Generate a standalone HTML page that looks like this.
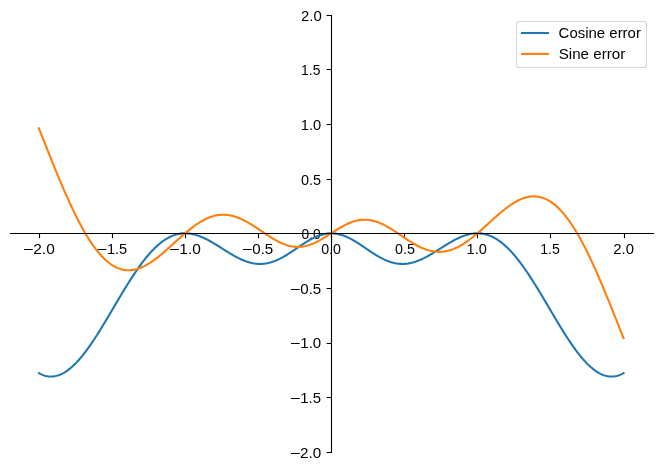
<!DOCTYPE html><html><head><meta charset="utf-8"><style>html,body{margin:0;padding:0;background:#fff;overflow:hidden;}svg{display:block;}text{font-family:"Liberation Sans",sans-serif;fill:#000;-webkit-font-smoothing:antialiased;}svg{will-change:transform;}</style></head><body>
<svg width="662" height="470" viewBox="0 0 662 470">
<rect width="662" height="470" fill="#fff"/>
<path d="M39.50,233.50 V238.361 M331.50,452.50 H326.639 M112.50,233.50 V238.361 M331.50,397.50 H326.639 M185.50,233.50 V238.361 M331.50,343.50 H326.639 M258.50,233.50 V238.361 M331.50,288.50 H326.639 M331.50,233.50 V238.361 M331.50,233.50 H326.639 M404.50,233.50 V238.361 M331.50,179.50 H326.639 M477.50,233.50 V238.361 M331.50,124.50 H326.639 M550.50,233.50 V238.361 M331.50,69.50 H326.639 M624.50,233.50 V238.361 M331.50,15.50 H326.639" fill="none" stroke="#000" stroke-width="1.1111"/>
<text x="33.26" y="254.10" font-size="14.40" textLength="21.48" lengthAdjust="spacingAndGlyphs">2.0</text>
<text x="106.98" y="254.10" font-size="14.40" textLength="20.26" lengthAdjust="spacingAndGlyphs">1.5</text>
<text x="179.35" y="254.10" font-size="14.40" textLength="21.51" lengthAdjust="spacingAndGlyphs">1.0</text>
<text x="252.25" y="254.10" font-size="14.40" textLength="21.02" lengthAdjust="spacingAndGlyphs">0.5</text>
<text x="321.16" y="254.10" font-size="14.40" textLength="19.77" lengthAdjust="spacingAndGlyphs">0.0</text>
<text x="395.04" y="254.10" font-size="14.40" textLength="19.93" lengthAdjust="spacingAndGlyphs">0.5</text>
<text x="466.62" y="254.10" font-size="14.40" textLength="20.35" lengthAdjust="spacingAndGlyphs">1.0</text>
<text x="540.17" y="254.10" font-size="14.40" textLength="19.69" lengthAdjust="spacingAndGlyphs">1.5</text>
<text x="613.34" y="254.10" font-size="14.40" textLength="20.70" lengthAdjust="spacingAndGlyphs">2.0</text>
<text x="300.13" y="458.00" font-size="14.40" textLength="21.23" lengthAdjust="spacingAndGlyphs">2.0</text>
<text x="300.23" y="403.10" font-size="14.40" textLength="20.82" lengthAdjust="spacingAndGlyphs">1.5</text>
<text x="300.30" y="348.10" font-size="14.40" textLength="20.96" lengthAdjust="spacingAndGlyphs">1.0</text>
<text x="300.25" y="294.00" font-size="14.40" textLength="21.02" lengthAdjust="spacingAndGlyphs">0.5</text>
<text x="301.55" y="238.80" font-size="14.40" textLength="19.22" lengthAdjust="spacingAndGlyphs">0.0</text>
<text x="300.95" y="185.00" font-size="14.40" textLength="20.07" lengthAdjust="spacingAndGlyphs">0.5</text>
<text x="300.75" y="130.10" font-size="14.40" textLength="20.47" lengthAdjust="spacingAndGlyphs">1.0</text>
<text x="301.08" y="75.40" font-size="14.40" textLength="19.32" lengthAdjust="spacingAndGlyphs">1.5</text>
<text x="300.94" y="21.00" font-size="14.40" textLength="20.80" lengthAdjust="spacingAndGlyphs">2.0</text>
<path d="M24.10,249.50 H32.75 M97.60,249.50 H106.25 M170.10,249.50 H178.75 M243.00,249.50 H251.65 M291.00,453.50 H299.65 M291.00,398.50 H299.65 M291.00,343.50 H299.65 M291.00,289.50 H299.65" stroke="#000" stroke-width="1.2" fill="none"/>
<path d="M38.95,373.14 L39.93,373.68 L40.90,374.17 L41.88,374.61 L42.85,375.01 L43.83,375.37 L44.81,375.68 L45.78,375.94 L46.76,376.15 L47.73,376.33 L48.71,376.45 L49.69,376.53 L50.66,376.57 L51.64,376.56 L52.61,376.51 L53.59,376.41 L54.57,376.27 L55.54,376.09 L56.52,375.86 L57.49,375.59 L58.47,375.28 L59.45,374.92 L60.42,374.53 L61.40,374.09 L62.37,373.61 L63.35,373.10 L64.32,372.54 L65.30,371.94 L66.28,371.30 L67.25,370.63 L68.23,369.91 L69.20,369.16 L70.18,368.38 L71.16,367.55 L72.13,366.70 L73.11,365.80 L74.08,364.88 L75.06,363.91 L76.04,362.92 L77.01,361.89 L77.99,360.83 L78.96,359.75 L79.94,358.63 L80.92,357.48 L81.89,356.30 L82.87,355.09 L83.84,353.86 L84.82,352.60 L85.80,351.32 L86.77,350.01 L87.75,348.68 L88.72,347.32 L89.70,345.94 L90.68,344.54 L91.65,343.12 L92.63,341.68 L93.60,340.22 L94.58,338.74 L95.56,337.24 L96.53,335.73 L97.51,334.20 L98.48,332.66 L99.46,331.10 L100.44,329.53 L101.41,327.95 L102.39,326.36 L103.36,324.75 L104.34,323.14 L105.32,321.52 L106.29,319.89 L107.27,318.26 L108.24,316.62 L109.22,314.98 L110.20,313.33 L111.17,311.67 L112.15,310.02 L113.12,308.37 L114.10,306.71 L115.07,305.06 L116.05,303.40 L117.03,301.75 L118.00,300.10 L118.98,298.46 L119.95,296.82 L120.93,295.19 L121.91,293.57 L122.88,291.95 L123.86,290.34 L124.83,288.74 L125.81,287.15 L126.79,285.57 L127.76,284.00 L128.74,282.45 L129.71,280.91 L130.69,279.38 L131.67,277.87 L132.64,276.37 L133.62,274.89 L134.59,273.43 L135.57,271.98 L136.55,270.56 L137.52,269.15 L138.50,267.76 L139.47,266.40 L140.45,265.05 L141.43,263.73 L142.40,262.43 L143.38,261.15 L144.35,259.89 L145.33,258.66 L146.31,257.46 L147.28,256.28 L148.26,255.13 L149.23,254.00 L150.21,252.90 L151.19,251.82 L152.16,250.78 L153.14,249.76 L154.11,248.77 L155.09,247.81 L156.07,246.88 L157.04,245.97 L158.02,245.10 L158.99,244.26 L159.97,243.45 L160.94,242.67 L161.92,241.92 L162.90,241.20 L163.87,240.51 L164.85,239.85 L165.82,239.22 L166.80,238.63 L167.78,238.07 L168.75,237.54 L169.73,237.04 L170.70,236.57 L171.68,236.14 L172.66,235.73 L173.63,235.36 L174.61,235.02 L175.58,234.71 L176.56,234.43 L177.54,234.19 L178.51,233.97 L179.49,233.78 L180.46,233.63 L181.44,233.50 L182.42,233.41 L183.39,233.34 L184.37,233.31 L185.34,233.30 L186.32,233.32 L187.30,233.37 L188.27,233.45 L189.25,233.55 L190.22,233.68 L191.20,233.84 L192.18,234.02 L193.15,234.23 L194.13,234.46 L195.10,234.72 L196.08,235.00 L197.06,235.30 L198.03,235.63 L199.01,235.98 L199.98,236.34 L200.96,236.73 L201.94,237.14 L202.91,237.56 L203.89,238.00 L204.86,238.46 L205.84,238.94 L206.82,239.43 L207.79,239.94 L208.77,240.46 L209.74,240.99 L210.72,241.53 L211.69,242.09 L212.67,242.65 L213.65,243.23 L214.62,243.81 L215.60,244.40 L216.57,245.00 L217.55,245.60 L218.53,246.21 L219.50,246.82 L220.48,247.44 L221.45,248.05 L222.43,248.67 L223.41,249.29 L224.38,249.90 L225.36,250.51 L226.33,251.13 L227.31,251.73 L228.29,252.33 L229.26,252.93 L230.24,253.52 L231.21,254.10 L232.19,254.67 L233.17,255.23 L234.14,255.79 L235.12,256.33 L236.09,256.85 L237.07,257.37 L238.05,257.87 L239.02,258.36 L240.00,258.83 L240.97,259.28 L241.95,259.72 L242.93,260.14 L243.90,260.54 L244.88,260.92 L245.85,261.28 L246.83,261.62 L247.81,261.94 L248.78,262.24 L249.76,262.52 L250.73,262.77 L251.71,263.00 L252.69,263.20 L253.66,263.38 L254.64,263.54 L255.61,263.67 L256.59,263.77 L257.57,263.85 L258.54,263.91 L259.52,263.94 L260.49,263.94 L261.47,263.91 L262.44,263.86 L263.42,263.79 L264.40,263.68 L265.37,263.55 L266.35,263.40 L267.32,263.22 L268.30,263.01 L269.28,262.78 L270.25,262.52 L271.23,262.24 L272.20,261.93 L273.18,261.60 L274.16,261.25 L275.13,260.87 L276.11,260.47 L277.08,260.05 L278.06,259.61 L279.04,259.14 L280.01,258.66 L280.99,258.16 L281.96,257.65 L282.94,257.11 L283.92,256.56 L284.89,255.99 L285.87,255.41 L286.84,254.82 L287.82,254.21 L288.80,253.60 L289.77,252.97 L290.75,252.34 L291.72,251.69 L292.70,251.04 L293.68,250.39 L294.65,249.73 L295.63,249.07 L296.60,248.41 L297.58,247.74 L298.56,247.08 L299.53,246.42 L300.51,245.76 L301.48,245.11 L302.46,244.47 L303.44,243.83 L304.41,243.20 L305.39,242.58 L306.36,241.97 L307.34,241.37 L308.31,240.79 L309.29,240.22 L310.27,239.67 L311.24,239.13 L312.22,238.61 L313.19,238.12 L314.17,237.64 L315.15,237.18 L316.12,236.74 L317.10,236.33 L318.07,235.94 L319.05,235.57 L320.03,235.23 L321.00,234.92 L321.98,234.63 L322.95,234.37 L323.93,234.13 L324.91,233.93 L325.88,233.75 L326.86,233.60 L327.83,233.48 L328.81,233.39 L329.79,233.33 L330.76,233.30 L331.74,233.30 L332.71,233.33 L333.69,233.39 L334.67,233.48 L335.64,233.60 L336.62,233.75 L337.59,233.93 L338.57,234.13 L339.55,234.37 L340.52,234.63 L341.50,234.92 L342.47,235.23 L343.45,235.57 L344.43,235.94 L345.40,236.33 L346.38,236.74 L347.35,237.18 L348.33,237.64 L349.31,238.12 L350.28,238.61 L351.26,239.13 L352.23,239.67 L353.21,240.22 L354.19,240.79 L355.16,241.37 L356.14,241.97 L357.11,242.58 L358.09,243.20 L359.06,243.83 L360.04,244.47 L361.02,245.11 L361.99,245.76 L362.97,246.42 L363.94,247.08 L364.92,247.74 L365.90,248.41 L366.87,249.07 L367.85,249.73 L368.82,250.39 L369.80,251.04 L370.78,251.69 L371.75,252.34 L372.73,252.97 L373.70,253.60 L374.68,254.21 L375.66,254.82 L376.63,255.41 L377.61,255.99 L378.58,256.56 L379.56,257.11 L380.54,257.65 L381.51,258.16 L382.49,258.66 L383.46,259.14 L384.44,259.61 L385.42,260.05 L386.39,260.47 L387.37,260.87 L388.34,261.25 L389.32,261.60 L390.30,261.93 L391.27,262.24 L392.25,262.52 L393.22,262.78 L394.20,263.01 L395.18,263.22 L396.15,263.40 L397.13,263.55 L398.10,263.68 L399.08,263.79 L400.06,263.86 L401.03,263.91 L402.01,263.94 L402.98,263.94 L403.96,263.91 L404.93,263.85 L405.91,263.77 L406.89,263.67 L407.86,263.54 L408.84,263.38 L409.81,263.20 L410.79,263.00 L411.77,262.77 L412.74,262.52 L413.72,262.24 L414.69,261.94 L415.67,261.62 L416.65,261.28 L417.62,260.92 L418.60,260.54 L419.57,260.14 L420.55,259.72 L421.53,259.28 L422.50,258.83 L423.48,258.36 L424.45,257.87 L425.43,257.37 L426.41,256.85 L427.38,256.33 L428.36,255.79 L429.33,255.23 L430.31,254.67 L431.29,254.10 L432.26,253.52 L433.24,252.93 L434.21,252.33 L435.19,251.73 L436.17,251.13 L437.14,250.51 L438.12,249.90 L439.09,249.29 L440.07,248.67 L441.05,248.05 L442.02,247.44 L443.00,246.82 L443.97,246.21 L444.95,245.60 L445.93,245.00 L446.90,244.40 L447.88,243.81 L448.85,243.23 L449.83,242.65 L450.81,242.09 L451.78,241.53 L452.76,240.99 L453.73,240.46 L454.71,239.94 L455.68,239.43 L456.66,238.94 L457.64,238.46 L458.61,238.00 L459.59,237.56 L460.56,237.14 L461.54,236.73 L462.52,236.34 L463.49,235.98 L464.47,235.63 L465.44,235.30 L466.42,235.00 L467.40,234.72 L468.37,234.46 L469.35,234.23 L470.32,234.02 L471.30,233.84 L472.28,233.68 L473.25,233.55 L474.23,233.45 L475.20,233.37 L476.18,233.32 L477.16,233.30 L478.13,233.31 L479.11,233.34 L480.08,233.41 L481.06,233.50 L482.04,233.63 L483.01,233.78 L483.99,233.97 L484.96,234.19 L485.94,234.43 L486.92,234.71 L487.89,235.02 L488.87,235.36 L489.84,235.73 L490.82,236.14 L491.80,236.57 L492.77,237.04 L493.75,237.54 L494.72,238.07 L495.70,238.63 L496.68,239.22 L497.65,239.85 L498.63,240.51 L499.60,241.20 L500.58,241.92 L501.56,242.67 L502.53,243.45 L503.51,244.26 L504.48,245.10 L505.46,245.97 L506.43,246.88 L507.41,247.81 L508.39,248.77 L509.36,249.76 L510.34,250.78 L511.31,251.82 L512.29,252.90 L513.27,254.00 L514.24,255.13 L515.22,256.28 L516.19,257.46 L517.17,258.66 L518.15,259.89 L519.12,261.15 L520.10,262.43 L521.07,263.73 L522.05,265.05 L523.03,266.40 L524.00,267.76 L524.98,269.15 L525.95,270.56 L526.93,271.98 L527.91,273.43 L528.88,274.89 L529.86,276.37 L530.83,277.87 L531.81,279.38 L532.79,280.91 L533.76,282.45 L534.74,284.00 L535.71,285.57 L536.69,287.15 L537.67,288.74 L538.64,290.34 L539.62,291.95 L540.59,293.57 L541.57,295.19 L542.55,296.82 L543.52,298.46 L544.50,300.10 L545.47,301.75 L546.45,303.40 L547.43,305.06 L548.40,306.71 L549.38,308.37 L550.35,310.02 L551.33,311.67 L552.30,313.33 L553.28,314.98 L554.26,316.62 L555.23,318.26 L556.21,319.89 L557.18,321.52 L558.16,323.14 L559.14,324.75 L560.11,326.36 L561.09,327.95 L562.06,329.53 L563.04,331.10 L564.02,332.66 L564.99,334.20 L565.97,335.73 L566.94,337.24 L567.92,338.74 L568.90,340.22 L569.87,341.68 L570.85,343.12 L571.82,344.54 L572.80,345.94 L573.78,347.32 L574.75,348.68 L575.73,350.01 L576.70,351.32 L577.68,352.60 L578.66,353.86 L579.63,355.09 L580.61,356.30 L581.58,357.48 L582.56,358.63 L583.54,359.75 L584.51,360.83 L585.49,361.89 L586.46,362.92 L587.44,363.91 L588.42,364.88 L589.39,365.80 L590.37,366.70 L591.34,367.55 L592.32,368.38 L593.30,369.16 L594.27,369.91 L595.25,370.63 L596.22,371.30 L597.20,371.94 L598.18,372.54 L599.15,373.10 L600.13,373.61 L601.10,374.09 L602.08,374.53 L603.05,374.92 L604.03,375.28 L605.01,375.59 L605.98,375.86 L606.96,376.09 L607.93,376.27 L608.91,376.41 L609.89,376.51 L610.86,376.56 L611.84,376.57 L612.81,376.53 L613.79,376.45 L614.77,376.33 L615.74,376.15 L616.72,375.94 L617.69,375.68 L618.67,375.37 L619.65,375.01 L620.62,374.61 L621.60,374.17 L622.57,373.68 L623.55,373.14" fill="none" stroke="#1f77b4" stroke-width="2.0833" stroke-linejoin="round" stroke-linecap="square"/>
<path d="M38.95,128.42 L39.93,130.88 L40.90,133.34 L41.88,135.80 L42.85,138.26 L43.83,140.73 L44.81,143.19 L45.78,145.65 L46.76,148.11 L47.73,150.56 L48.71,153.01 L49.69,155.45 L50.66,157.89 L51.64,160.32 L52.61,162.74 L53.59,165.15 L54.57,167.55 L55.54,169.94 L56.52,172.32 L57.49,174.69 L58.47,177.04 L59.45,179.37 L60.42,181.70 L61.40,184.00 L62.37,186.29 L63.35,188.56 L64.32,190.81 L65.30,193.04 L66.28,195.25 L67.25,197.45 L68.23,199.61 L69.20,201.76 L70.18,203.88 L71.16,205.98 L72.13,208.05 L73.11,210.10 L74.08,212.12 L75.06,214.12 L76.04,216.08 L77.01,218.02 L77.99,219.93 L78.96,221.81 L79.94,223.66 L80.92,225.48 L81.89,227.27 L82.87,229.03 L83.84,230.75 L84.82,232.44 L85.80,234.10 L86.77,235.73 L87.75,237.32 L88.72,238.87 L89.70,240.39 L90.68,241.88 L91.65,243.33 L92.63,244.74 L93.60,246.12 L94.58,247.46 L95.56,248.76 L96.53,250.03 L97.51,251.26 L98.48,252.45 L99.46,253.60 L100.44,254.72 L101.41,255.79 L102.39,256.83 L103.36,257.83 L104.34,258.79 L105.32,259.71 L106.29,260.59 L107.27,261.43 L108.24,262.23 L109.22,263.00 L110.20,263.72 L111.17,264.41 L112.15,265.05 L113.12,265.66 L114.10,266.23 L115.07,266.76 L116.05,267.25 L117.03,267.71 L118.00,268.12 L118.98,268.50 L119.95,268.84 L120.93,269.14 L121.91,269.41 L122.88,269.63 L123.86,269.82 L124.83,269.98 L125.81,270.10 L126.79,270.18 L127.76,270.23 L128.74,270.24 L129.71,270.22 L130.69,270.16 L131.67,270.07 L132.64,269.95 L133.62,269.79 L134.59,269.61 L135.57,269.39 L136.55,269.14 L137.52,268.86 L138.50,268.55 L139.47,268.21 L140.45,267.84 L141.43,267.44 L142.40,267.02 L143.38,266.57 L144.35,266.09 L145.33,265.59 L146.31,265.06 L147.28,264.51 L148.26,263.94 L149.23,263.35 L150.21,262.73 L151.19,262.09 L152.16,261.43 L153.14,260.75 L154.11,260.06 L155.09,259.34 L156.07,258.61 L157.04,257.87 L158.02,257.10 L158.99,256.33 L159.97,255.54 L160.94,254.73 L161.92,253.92 L162.90,253.09 L163.87,252.25 L164.85,251.41 L165.82,250.56 L166.80,249.69 L167.78,248.83 L168.75,247.95 L169.73,247.08 L170.70,246.19 L171.68,245.31 L172.66,244.42 L173.63,243.53 L174.61,242.64 L175.58,241.75 L176.56,240.87 L177.54,239.98 L178.51,239.10 L179.49,238.22 L180.46,237.35 L181.44,236.48 L182.42,235.62 L183.39,234.77 L184.37,233.93 L185.34,233.09 L186.32,232.27 L187.30,231.45 L188.27,230.65 L189.25,229.86 L190.22,229.08 L191.20,228.32 L192.18,227.57 L193.15,226.83 L194.13,226.12 L195.10,225.42 L196.08,224.73 L197.06,224.07 L198.03,223.42 L199.01,222.79 L199.98,222.18 L200.96,221.60 L201.94,221.03 L202.91,220.49 L203.89,219.96 L204.86,219.47 L205.84,218.99 L206.82,218.54 L207.79,218.11 L208.77,217.70 L209.74,217.32 L210.72,216.97 L211.69,216.64 L212.67,216.33 L213.65,216.06 L214.62,215.81 L215.60,215.58 L216.57,215.38 L217.55,215.21 L218.53,215.06 L219.50,214.95 L220.48,214.85 L221.45,214.79 L222.43,214.75 L223.41,214.74 L224.38,214.76 L225.36,214.80 L226.33,214.87 L227.31,214.97 L228.29,215.09 L229.26,215.24 L230.24,215.41 L231.21,215.61 L232.19,215.83 L233.17,216.08 L234.14,216.35 L235.12,216.65 L236.09,216.97 L237.07,217.31 L238.05,217.68 L239.02,218.06 L240.00,218.47 L240.97,218.90 L241.95,219.34 L242.93,219.81 L243.90,220.30 L244.88,220.80 L245.85,221.32 L246.83,221.85 L247.81,222.40 L248.78,222.96 L249.76,223.54 L250.73,224.13 L251.71,224.73 L252.69,225.34 L253.66,225.96 L254.64,226.59 L255.61,227.23 L256.59,227.87 L257.57,228.52 L258.54,229.18 L259.52,229.83 L260.49,230.49 L261.47,231.15 L262.44,231.81 L263.42,232.47 L264.40,233.12 L265.37,233.78 L266.35,234.43 L267.32,235.07 L268.30,235.71 L269.28,236.33 L270.25,236.95 L271.23,237.56 L272.20,238.16 L273.18,238.75 L274.16,239.32 L275.13,239.88 L276.11,240.43 L277.08,240.96 L278.06,241.47 L279.04,241.96 L280.01,242.44 L280.99,242.89 L281.96,243.32 L282.94,243.74 L283.92,244.13 L284.89,244.49 L285.87,244.84 L286.84,245.16 L287.82,245.45 L288.80,245.72 L289.77,245.96 L290.75,246.18 L291.72,246.37 L292.70,246.53 L293.68,246.66 L294.65,246.77 L295.63,246.85 L296.60,246.90 L297.58,246.92 L298.56,246.91 L299.53,246.88 L300.51,246.81 L301.48,246.72 L302.46,246.60 L303.44,246.45 L304.41,246.28 L305.39,246.07 L306.36,245.84 L307.34,245.59 L308.31,245.31 L309.29,245.00 L310.27,244.67 L311.24,244.31 L312.22,243.93 L313.19,243.53 L314.17,243.11 L315.15,242.67 L316.12,242.20 L317.10,241.72 L318.07,241.22 L319.05,240.70 L320.03,240.17 L321.00,239.62 L321.98,239.06 L322.95,238.49 L323.93,237.90 L324.91,237.31 L325.88,236.71 L326.86,236.10 L327.83,235.48 L328.81,234.86 L329.79,234.24 L330.76,233.61 L331.74,232.99 L332.71,232.36 L333.69,231.74 L334.67,231.12 L335.64,230.50 L336.62,229.89 L337.59,229.29 L338.57,228.70 L339.55,228.11 L340.52,227.54 L341.50,226.98 L342.47,226.43 L343.45,225.90 L344.43,225.38 L345.40,224.88 L346.38,224.40 L347.35,223.93 L348.33,223.49 L349.31,223.07 L350.28,222.67 L351.26,222.29 L352.23,221.93 L353.21,221.60 L354.19,221.29 L355.16,221.01 L356.14,220.76 L357.11,220.53 L358.09,220.32 L359.06,220.15 L360.04,220.00 L361.02,219.88 L361.99,219.79 L362.97,219.72 L363.94,219.69 L364.92,219.68 L365.90,219.70 L366.87,219.75 L367.85,219.83 L368.82,219.94 L369.80,220.07 L370.78,220.23 L371.75,220.42 L372.73,220.64 L373.70,220.88 L374.68,221.15 L375.66,221.44 L376.63,221.76 L377.61,222.11 L378.58,222.47 L379.56,222.86 L380.54,223.28 L381.51,223.71 L382.49,224.16 L383.46,224.64 L384.44,225.13 L385.42,225.64 L386.39,226.17 L387.37,226.72 L388.34,227.28 L389.32,227.85 L390.30,228.44 L391.27,229.04 L392.25,229.65 L393.22,230.27 L394.20,230.89 L395.18,231.53 L396.15,232.17 L397.13,232.82 L398.10,233.48 L399.08,234.13 L400.06,234.79 L401.03,235.45 L402.01,236.11 L402.98,236.77 L403.96,237.42 L404.93,238.08 L405.91,238.73 L406.89,239.37 L407.86,240.01 L408.84,240.64 L409.81,241.26 L410.79,241.87 L411.77,242.47 L412.74,243.06 L413.72,243.64 L414.69,244.20 L415.67,244.75 L416.65,245.28 L417.62,245.80 L418.60,246.30 L419.57,246.79 L420.55,247.26 L421.53,247.70 L422.50,248.13 L423.48,248.54 L424.45,248.92 L425.43,249.29 L426.41,249.63 L427.38,249.95 L428.36,250.25 L429.33,250.52 L430.31,250.77 L431.29,250.99 L432.26,251.19 L433.24,251.36 L434.21,251.51 L435.19,251.63 L436.17,251.73 L437.14,251.80 L438.12,251.84 L439.09,251.86 L440.07,251.85 L441.05,251.81 L442.02,251.75 L443.00,251.65 L443.97,251.54 L444.95,251.39 L445.93,251.22 L446.90,251.02 L447.88,250.79 L448.85,250.54 L449.83,250.27 L450.81,249.96 L451.78,249.63 L452.76,249.28 L453.73,248.90 L454.71,248.49 L455.68,248.06 L456.66,247.61 L457.64,247.13 L458.61,246.64 L459.59,246.11 L460.56,245.57 L461.54,245.00 L462.52,244.42 L463.49,243.81 L464.47,243.18 L465.44,242.53 L466.42,241.87 L467.40,241.18 L468.37,240.48 L469.35,239.77 L470.32,239.03 L471.30,238.28 L472.28,237.52 L473.25,236.74 L474.23,235.95 L475.20,235.15 L476.18,234.33 L477.16,233.51 L478.13,232.67 L479.11,231.83 L480.08,230.98 L481.06,230.12 L482.04,229.25 L483.01,228.38 L483.99,227.50 L484.96,226.62 L485.94,225.73 L486.92,224.85 L487.89,223.96 L488.87,223.07 L489.84,222.18 L490.82,221.29 L491.80,220.41 L492.77,219.52 L493.75,218.65 L494.72,217.77 L495.70,216.91 L496.68,216.04 L497.65,215.19 L498.63,214.35 L499.60,213.51 L500.58,212.68 L501.56,211.87 L502.53,211.06 L503.51,210.27 L504.48,209.50 L505.46,208.73 L506.43,207.99 L507.41,207.26 L508.39,206.54 L509.36,205.85 L510.34,205.17 L511.31,204.51 L512.29,203.87 L513.27,203.25 L514.24,202.66 L515.22,202.09 L516.19,201.54 L517.17,201.01 L518.15,200.51 L519.12,200.03 L520.10,199.58 L521.07,199.16 L522.05,198.76 L523.03,198.39 L524.00,198.05 L524.98,197.74 L525.95,197.46 L526.93,197.21 L527.91,196.99 L528.88,196.81 L529.86,196.65 L530.83,196.53 L531.81,196.44 L532.79,196.38 L533.76,196.36 L534.74,196.37 L535.71,196.42 L536.69,196.50 L537.67,196.62 L538.64,196.78 L539.62,196.97 L540.59,197.19 L541.57,197.46 L542.55,197.76 L543.52,198.10 L544.50,198.48 L545.47,198.89 L546.45,199.35 L547.43,199.84 L548.40,200.37 L549.38,200.94 L550.35,201.55 L551.33,202.19 L552.30,202.88 L553.28,203.60 L554.26,204.37 L555.23,205.17 L556.21,206.01 L557.18,206.89 L558.16,207.81 L559.14,208.77 L560.11,209.77 L561.09,210.81 L562.06,211.88 L563.04,213.00 L564.02,214.15 L564.99,215.34 L565.97,216.57 L566.94,217.84 L567.92,219.14 L568.90,220.48 L569.87,221.86 L570.85,223.27 L571.82,224.72 L572.80,226.21 L573.78,227.73 L574.75,229.28 L575.73,230.87 L576.70,232.50 L577.68,234.16 L578.66,235.85 L579.63,237.57 L580.61,239.33 L581.58,241.12 L582.56,242.94 L583.54,244.79 L584.51,246.67 L585.49,248.58 L586.46,250.52 L587.44,252.48 L588.42,254.48 L589.39,256.50 L590.37,258.55 L591.34,260.62 L592.32,262.72 L593.30,264.84 L594.27,266.99 L595.25,269.15 L596.22,271.35 L597.20,273.56 L598.18,275.79 L599.15,278.04 L600.13,280.31 L601.10,282.60 L602.08,284.90 L603.05,287.23 L604.03,289.56 L605.01,291.91 L605.98,294.28 L606.96,296.66 L607.93,299.05 L608.91,301.45 L609.89,303.86 L610.86,306.28 L611.84,308.71 L612.81,311.15 L613.79,313.59 L614.77,316.04 L615.74,318.49 L616.72,320.95 L617.69,323.41 L618.67,325.87 L619.65,328.34 L620.62,330.80 L621.60,333.26 L622.57,335.72 L623.55,338.18" fill="none" stroke="#ff7f0e" stroke-width="2.0833" stroke-linejoin="round" stroke-linecap="square"/>
<path d="M331.50,14.944 V453.056 M9.944,233.50 H654.056" fill="none" stroke="#000" stroke-width="1.1111"/>
<rect x="516.50" y="21.50" width="130.00" height="46.00" rx="2.78" ry="2.78" fill="#fff" fill-opacity="0.8" stroke="#ccc" stroke-opacity="0.8" stroke-width="1.1111"/>
<path d="M521.00,33.00 H549.00" stroke="#1f77b4" stroke-width="2.0833"/>
<path d="M521.00,53.90 H549.00" stroke="#ff7f0e" stroke-width="2.0833"/>
<text x="558.61" y="38.10" font-size="15.10" textLength="82.28" lengthAdjust="spacingAndGlyphs">Cosine error</text>
<text x="558.72" y="58.80" font-size="15.10" textLength="66.50" lengthAdjust="spacingAndGlyphs">Sine error</text>
</svg></body></html>
